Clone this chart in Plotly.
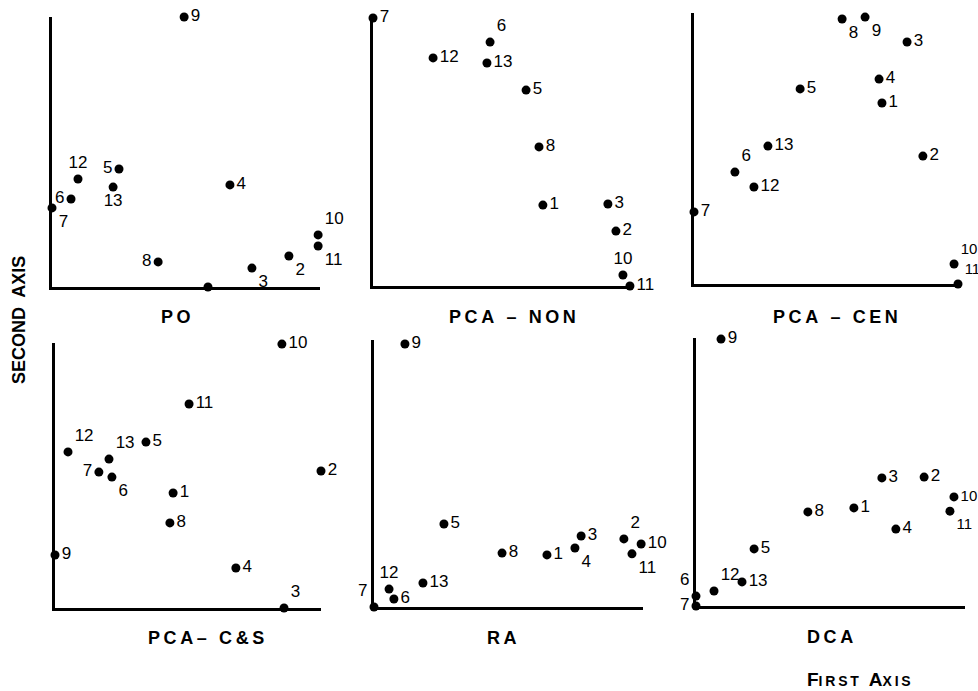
import plotly.graph_objects as go

# ---------------- data (scores scaled 0-100 on each ordination axis) ----------------
sites = ["1", "2", "3", "4", "5", "6", "7", "8", "9", "10", "11", "12", "13"]
panel_titles = ["PO", "PCA \u2013 NON", "PCA \u2013 CEN", "PCA\u2013 C&S", "RA", "DCA"]

po_x = [58.2, 88.4, 74.6, 66.4, 25.0, 7.1, 0.0, 39.6, 49.3, 99.3, 99.3, 9.7, 22.8]
po_y = [0.0, 11.5, 7.0, 37.8, 43.7, 32.6, 29.3, 9.3, 100.0, 19.3, 15.2, 40.0, 37.0]

non_x = [65.6, 93.8, 90.7, 103.9, 59.1, 45.2, 0.0, 64.1, 103.9, 96.5, 99.2, 23.2, 44.0]
non_y = [30.2, 20.5, 30.6, 55.6, 73.1, 91.0, 100.0, 51.9, 66.4, 4.1, 0.0, 85.1, 83.2]

cen_x = [71.2, 86.7, 80.7, 70.1, 40.2, 15.5, 0.0, 56.1, 64.8, 98.5, 100.0, 22.7, 28.0]
cen_y = [66.8, 47.2, 89.3, 75.6, 72.0, 41.3, 26.6, 97.8, 98.5, 7.4, 0.0, 35.8, 50.9]

cs_x = [44.4, 100.0, 86.1, 68.0, 34.2, 21.4, 16.5, 43.2, 0.0, 85.3, 50.4, 4.9, 20.3]
cs_y = [43.4, 51.7, 0.0, 15.1, 62.6, 49.4, 51.3, 32.1, 20.0, 99.6, 77.0, 58.9, 56.2]

ra_x = [64.3, 92.9, 77.0, 74.7, 26.0, 7.4, 0.0, 47.6, 11.5, 99.3, 95.9, 5.6, 18.2]
ra_y = [19.5, 25.5, 26.6, 22.1, 31.1, 3.0, 0.0, 20.2, 98.5, 23.6, 19.9, 6.7, 9.0]

dca_x = [58.7, 84.8, 69.1, 74.3, 21.6, 0.0, 0.0, 41.6, 9.3, 95.9, 94.4, 6.7, 17.1]
dca_y = [36.6, 48.1, 47.8, 28.7, 21.3, 3.7, 0.0, 35.1, 99.6, 40.7, 35.4, 5.6, 9.0]

# which site labels are printed (site 1 unlabelled in PO)
po_show = [False] + [True] * 12

# ---------------- label placement / size (style) ----------------
MR, BR, TR, TL, ML, BC, TC = ("middle right", "bottom right", "top right", "top left",
                              "middle left", "bottom center", "top center")
pos_po = [MR, BR, BR, MR, ML, ML, BR, ML, MR, TR, BR, TC, BC]
pos_non = [MR, MR, MR, MR, MR, TR, MR, MR, MR, TC, MR, MR, MR]
pos_cen = [MR, MR, MR, MR, MR, TR, MR, BR, BR, TR, TR, MR, MR]
pos_cs = [MR, MR, TR, MR, MR, BR, ML, MR, MR, MR, MR, TR, TR]
pos_ra = [MR, TR, MR, BR, MR, MR, TL, MR, MR, MR, BR, TC, MR]
pos_dca = [MR, MR, MR, MR, MR, TL, ML, MR, MR, MR, BR, TR, MR]

LBL = 17
EDGE = 15
size_std = [LBL] * 13
size_edge = [LBL] * 9 + [EDGE, EDGE] + [LBL] * 2   # sites 10 & 11 sit on the page edge

W, H = 978, 691
# pixel extents of each panel's axes: (left, right, top, bottom)
boxes = [(52, 320, 17, 287), (373, 632, 18, 286), (694, 958, 13, 284),
         (55, 321, 343, 608), (374, 643, 340, 607), (696, 965, 338, 606)]
title_px = [(176, 317), (512, 317), (835, 317), (206, 638), (502, 638), (830, 637)]

panels = [
    (po_x, po_y, pos_po, [s if v else "" for s, v in zip(sites, po_show)], size_std),
    (non_x, non_y, pos_non, sites, size_std),
    (cen_x, cen_y, pos_cen, sites, size_edge),
    (cs_x, cs_y, pos_cs, sites, size_std),
    (ra_x, ra_y, pos_ra, sites, size_std),
    (dca_x, dca_y, pos_dca, sites, size_edge),
]

FONT = "Liberation Sans"
THIN = "\u2009"


def spaced(s):
    return THIN.join(list(s))


fig = go.Figure()
layout = {}
for i, ((xs, ys, pos, labels, sizes), box) in enumerate(zip(panels, boxes)):
    n = i + 1
    xa = "x" if n == 1 else f"x{n}"
    ya = "y" if n == 1 else f"y{n}"
    fig.add_trace(go.Scatter(
        x=xs, y=ys, mode="markers+text", text=labels, textposition=pos,
        marker=dict(color="black", size=9),
        textfont=dict(family=FONT, size=sizes, color="black"),
        cliponaxis=False, xaxis=xa, yaxis=ya, showlegend=False,
        hoverinfo="skip",
    ))
    l, r, t, b = box
    axis_common = dict(showline=True, linecolor="black", linewidth=3,
                       showgrid=False, zeroline=False, showticklabels=False,
                       ticks="", range=[0, 100], fixedrange=True)
    layout["xaxis" if n == 1 else f"xaxis{n}"] = dict(
        domain=[l / W, r / W], anchor=ya, **axis_common)
    layout["yaxis" if n == 1 else f"yaxis{n}"] = dict(
        domain=[1 - b / H, 1 - t / H], anchor=xa, **axis_common)

annotations = []
for title, (cx, cy) in zip(panel_titles, title_px):
    annotations.append(dict(
        text=f"<b>{spaced(title)}</b>", x=cx / W, y=1 - cy / H, xref="paper", yref="paper",
        showarrow=False, xanchor="center", yanchor="middle",
        font=dict(family=FONT, size=18, color="black")))
annotations.append(dict(
    text="<b>F<span style='font-size:14px'>" + spaced("IRST") + "</span>  A"
         "<span style='font-size:14px'>" + spaced("XIS") + "</span></b>",
    x=859 / W, y=1 - 679 / H, xref="paper", yref="paper", showarrow=False,
    xanchor="center", yanchor="middle", font=dict(family=FONT, size=19, color="black")))
annotations.append(dict(
    text="<b>SECOND  AXIS</b>",
    x=19 / W, y=1 - 320 / H, xref="paper", yref="paper",
    showarrow=False, textangle=-90, xanchor="center", yanchor="middle",
    font=dict(family=FONT, size=18, color="black")))

fig.update_layout(
    width=W, height=H, margin=dict(l=0, r=0, t=0, b=0),
    paper_bgcolor="white", plot_bgcolor="white",
    annotations=annotations, **layout)

fig.write_html(
    "out.html",
    config={"displayModeBar": False, "staticPlot": True},
    post_script="document.body.style.margin='0';document.body.style.overflow='hidden';")
